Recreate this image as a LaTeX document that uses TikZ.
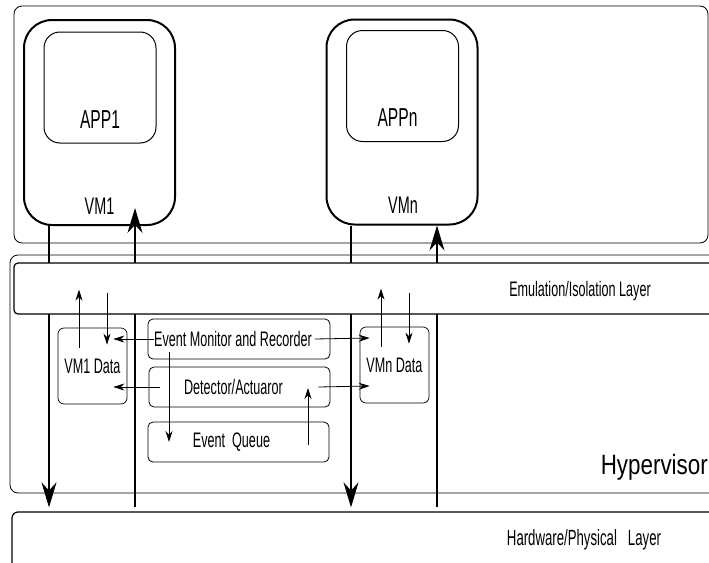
\documentclass[tikz,border=0pt]{standalone}
\usepackage{fontspec}
\setmainfont[FakeStretch=0.6]{Liberation Sans}
\newfontfamily\hyperfont[FakeStretch=0.8]{Liberation Sans}
\usetikzlibrary{shapes.geometric, arrows.meta, positioning}
\tikzstyle{layer} = [draw, rounded corners=8pt, line width=0.8pt, inner sep=0pt]
\tikzstyle{vmbox} = [draw, line width=2pt, rounded corners=28pt, inner sep=0pt, minimum width=151pt, minimum height=205pt]
\tikzstyle{appbox} = [draw, line width=1pt, rounded corners=16pt, inner sep=0pt, minimum width=112pt, minimum height=111pt]
\tikzstyle{databox} = [draw, line width=0.7pt, rounded corners=6pt, inner sep=0pt, minimum width=69pt, minimum height=76pt, font=\fontsize{21pt}{25pt}\selectfont]
\tikzstyle{unit} = [draw, line width=0.8pt, rounded corners=5pt, inner sep=0pt, minimum width=181pt, minimum height=40pt]
\tikzstyle{lbl} = [inner sep=0pt, font=\fontsize{21pt}{25pt}\selectfont]
\tikzstyle{arrow} = [line width=0.8pt, -{Stealth[length=11pt,width=7pt]}]
\tikzstyle{bigarrow} = [line width=1.4pt, -{Stealth[length=25pt,width=15pt]}]

\begin{document}
\begin{tikzpicture}[x=1pt, y=-1pt, node distance=48pt]
    \useasboundingbox (0,0) rectangle (709,562);

    % layers
    \node (vmlayer) [layer, minimum width=694pt, minimum height=237pt] at (361,124.5) {};
    \node (hyper) [layer, minimum width=720pt, minimum height=238pt] at (370,374) {};
    \node (hw) [layer, line width=1.2pt, rounded corners=6pt, minimum width=718pt, minimum height=68pt] at (371,546) {};

    % virtual machines
    \node (vm1) [vmbox] at (99.5,122.5) {};
    \node (app1) [appbox] at (100,87.5) {};
    \node (vmn) [vmbox, node distance=302.5pt, right of=vm1, yshift=0.5pt] {};
    \node (appn) [appbox, node distance=302.5pt, right of=app1, yshift=1.5pt] {};
    \node (app1txt) [lbl, font=\fontsize{26pt}{30pt}\selectfont] at ([yshift=24pt]app1.south) {APP1};
    \node (appntxt) [lbl, font=\fontsize{26pt}{30pt}\selectfont] at ([xshift=-5pt,yshift=24pt]appn.south) {APPn};
    \node (vm1txt) [lbl, font=\fontsize{24pt}{28pt}\selectfont] at ([yshift=20pt]vm1.south) {VM1};
    \node (vmntxt) [lbl, font=\fontsize{24pt}{28pt}\selectfont] at ([xshift=1pt,yshift=20pt]vmn.south) {VMn};

    % links between the machines and the hardware
    \coordinate (x1) at (49,0);
    \coordinate (x2) at (135,0);
    \coordinate (x3) at (351,0);
    \coordinate (x4) at (437,0);
    \draw[bigarrow, shorten >=4pt] (vm1.south -| x1) -- (hw.north -| x1);
    \draw[bigarrow, shorten <=4pt, shorten >=-18pt] (hw.north -| x2) -- (vm1.south -| x2);
    \draw[bigarrow, shorten >=4pt] (vmn.south -| x3) -- (hw.north -| x3);
    \draw[bigarrow, shorten <=4pt] (hw.north -| x4) -- (vmn.south -| x4);

    \node (emu) [layer, fill=white, line width=1.2pt, rounded corners=4pt, minimum width=716pt, minimum height=51pt] at (372,288.5) {};
    \node (emutxt) [lbl] at (580,291) {Emulation/Isolation Layer};
    \node (hwtxt) [lbl, font=\fontsize{22pt}{26pt}\selectfont] at (584,540) {Hardware/Physical~~~Layer};
    \node (hypertxt) [lbl, anchor=east, font=\hyperfont\fontsize{28pt}{32pt}\selectfont] at (708,467) {Hypervisor};

    % hypervisor units
    \node (vm1data) [databox] at (92.5,366) {VM1 Data};
    \node (vmndata) [databox] at (394.5,365) {VMn Data};
    \node (mon) [unit, minimum width=182pt] at (239,339) {};
    \node (det) [unit, below of=mon, xshift=0.5pt] {};
    \node (queue) [unit, below of=det, xshift=-1pt, yshift=-7pt] {};
    \node (montxt) [lbl] at ([xshift=-6pt]mon.center) {Event Monitor and Recorder};
    \node (dettxt) [lbl] at ([xshift=-6pt]det.center) {Detector/Actuaror};
    \node (queuetxt) [lbl] at ([xshift=-7pt]queue.center) {Event~~Queue};

    \draw[arrow] ([xshift=-13.5pt,yshift=-20pt]vm1data.north) -- +(0pt,58pt);
    \draw[arrow] ([xshift=14.5pt,yshift=35pt]vm1data.north) -- ([xshift=14.5pt,yshift=-17pt]vm1data.north);
    \draw[arrow] ([xshift=-13.5pt,yshift=-20pt]vmndata.north) -- +(0pt,58pt);
    \draw[arrow] ([xshift=14.5pt,yshift=34pt]vmndata.north) -- ([xshift=14.5pt,yshift=-17pt]vmndata.north);
    \draw[arrow] (montxt.west) -- ([xshift=-14pt,yshift=27pt]vm1data.east);
    \draw[arrow] ([xshift=11pt]det.west) -- ([xshift=-14pt,yshift=-21pt]vm1data.east);
    \draw[arrow] ([xshift=-70pt,yshift=7pt]mon.south) -- ([xshift=-69.5pt]queue.center);
    \draw[arrow] ([xshift=69.5pt,yshift=-3pt]queue.center) -- ([xshift=68.5pt,yshift=-1pt]det.center);
    \draw[arrow] ([xshift=3pt]montxt.east) -- ([xshift=10pt,yshift=27pt]vmndata.west);
    \draw[arrow] ([xshift=-12pt]det.east) -- ([xshift=10pt,yshift=-21pt]vmndata.west);
\end{tikzpicture}
\end{document}
